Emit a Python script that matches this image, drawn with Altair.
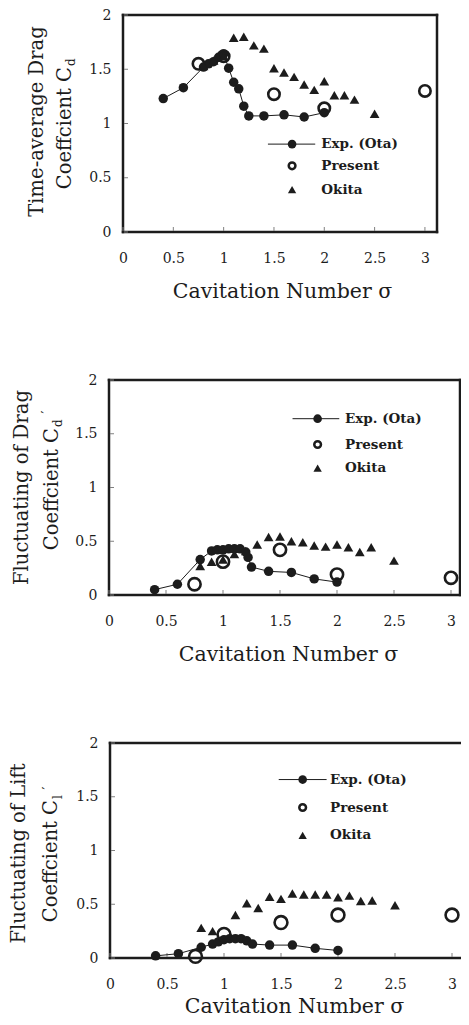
import altair as alt
import pandas as pd

FONT = "DejaVu Serif"
INK = "#1c1c1c"
TICK = "#808080"

x_ticks = [0, 0.5, 1, 1.5, 2, 2.5, 3]
y_ticks = [0, 0.5, 1, 1.5, 2]
legend_labels = ["Exp. (Ota)", "Present", "Okita"]
x_title = "Cavitation Number σ"

# ---- Panel 1: time-average drag coefficient Cd ----
sigma_exp_cd = [0.4, 0.6, 0.8, 0.85, 0.9, 0.95, 1.0, 1.05, 1.1, 1.15, 1.2, 1.25, 1.4, 1.6, 1.8, 2.0]
exp_cd = [1.23, 1.33, 1.52, 1.55, 1.57, 1.61, 1.64, 1.51, 1.38, 1.32, 1.16, 1.07, 1.07, 1.08, 1.06, 1.10]
sigma_present = [0.75, 1.0, 1.5, 2.0, 3.0]
present_cd = [1.55, 1.62, 1.27, 1.14, 1.30]
sigma_okita_cd = [0.8, 0.9, 1.0, 1.1, 1.2, 1.3, 1.4, 1.5, 1.6, 1.7, 1.8, 1.9, 2.0, 2.1, 2.2, 2.3, 2.5]
okita_cd = [1.53, 1.58, 1.62, 1.79, 1.80, 1.72, 1.69, 1.51, 1.47, 1.43, 1.36, 1.31, 1.39, 1.26, 1.26, 1.22, 1.09]

# ---- Panel 2: fluctuating drag coefficient Cd' ----
sigma_exp_cdf = [0.4, 0.6, 0.8, 0.9, 0.95, 1.0, 1.05, 1.1, 1.15, 1.2, 1.22, 1.25, 1.4, 1.6, 1.8, 2.0]
exp_cdf = [0.05, 0.10, 0.33, 0.41, 0.42, 0.42, 0.43, 0.43, 0.43, 0.40, 0.35, 0.26, 0.22, 0.21, 0.15, 0.12]
present_cdf = [0.10, 0.31, 0.42, 0.19, 0.16]
sigma_okita_cdf = [0.8, 0.9, 1.0, 1.1, 1.2, 1.3, 1.4, 1.5, 1.6, 1.7, 1.8, 1.9, 2.0, 2.1, 2.2, 2.3, 2.5]
okita_cdf = [0.27, 0.31, 0.33, 0.38, 0.41, 0.47, 0.54, 0.545, 0.50, 0.49, 0.46, 0.45, 0.47, 0.445, 0.40, 0.445, 0.32]

# ---- Panel 3: fluctuating lift coefficient Cl' ----
sigma_exp_clf = [0.4, 0.6, 0.8, 0.9, 0.95, 1.0, 1.05, 1.1, 1.15, 1.2, 1.25, 1.4, 1.6, 1.8, 2.0]
exp_clf = [0.02, 0.04, 0.10, 0.13, 0.15, 0.17, 0.18, 0.18, 0.18, 0.16, 0.13, 0.12, 0.12, 0.09, 0.07]
present_clf = [0.015, 0.22, 0.33, 0.40, 0.40]
sigma_okita_clf = [0.8, 0.9, 1.1, 1.2, 1.3, 1.4, 1.5, 1.6, 1.7, 1.8, 1.9, 2.0, 2.1, 2.2, 2.3, 2.5]
okita_clf = [0.28, 0.25, 0.40, 0.51, 0.465, 0.57, 0.55, 0.60, 0.59, 0.59, 0.59, 0.565, 0.58, 0.53, 0.535, 0.49]

# whole drawing area: one view, three panels placed by their own scale ranges
WV, HV = 453, 1008


def text_mark(text, x, y, size, align="center", angle=270):
    return alt.Chart(pd.DataFrame({"a": [0]})).mark_text(
        text=text, angle=angle, align=align, baseline="middle",
        font=FONT, fontSize=size, color=INK,
    ).encode(x=alt.value(x), y=alt.value(y))


def panel(cfg):
    l, r, t, b = cfg["l"], cfg["r"], cfg["t"], cfg["b"]
    xmax = cfg["xmax"]

    def xs():
        return alt.Scale(domain=[0, xmax], range=[l, r], nice=False, zero=False)

    def ys():
        return alt.Scale(domain=[0, 2], range=[b, t], nice=False, zero=False)

    ax_lab_x = alt.Axis(
        orient="bottom", offset=b - HV, values=x_ticks, format="~g",
        labelFont=FONT, labelFontSize=14, labelColor=INK, labelPadding=19,
        ticks=False, tickSize=0, domain=False, grid=False, labelFlush=False, labelOverlap=False,
        title=x_title, titleFont=FONT, titleFontSize=20.5, titleFontWeight="normal",
        titleColor=INK, titleX=cfg["tx"], titleY=cfg["ty"], titleBaseline="alphabetic",
        titleAlign="center", minExtent=0,
    )
    ax_lab_y = alt.Axis(
        orient="left", offset=-l, values=y_ticks, format="~g",
        labelFont=FONT, labelFontSize=14, labelColor=INK, labelPadding=12,
        ticks=False, tickSize=0, domain=False, grid=False, labelFlush=False, labelOverlap=False,
        title=None, minExtent=0,
    )

    def enc(ax=None, ay=None):
        return dict(
            x=alt.X("sigma:Q", scale=xs(), axis=ax),
            y=alt.Y("c:Q", scale=ys(), axis=ay),
        )

    exp_df = pd.DataFrame({"sigma": cfg["exp_x"], "c": cfg["exp_y"]})
    pres_df = pd.DataFrame({"sigma": cfg["pres_x"], "c": cfg["pres_y"]})
    ok_df = pd.DataFrame({"sigma": cfg["ok_x"], "c": cfg["ok_y"]})

    # frame edges in data units (panel 3 runs off the right edge of the page)
    edges = [(0, 0, xmax, 0), (0, 2, xmax, 2), (0, 0, 0, 2)]
    if cfg["right_edge"]:
        edges.append((xmax, 0, xmax, 2))
    frame_df = pd.DataFrame(edges, columns=["sigma", "c", "sigma2", "c2"])
    xt_df = pd.DataFrame({"sigma": x_ticks, "c": [0] * len(x_ticks)})
    yt_df = pd.DataFrame({"sigma": [0] * len(y_ticks), "c": y_ticks})

    layers = [
        alt.Chart(frame_df).mark_rule(color=INK, strokeWidth=2.5, strokeCap="square").encode(
            x2="sigma2:Q", y2="c2:Q", **enc(ax_lab_x, ax_lab_y)),
        alt.Chart(xt_df).mark_tick(orient="vertical", size=4, thickness=1, color=TICK,
                                   yOffset=-3, opacity=1).encode(**enc()),
        alt.Chart(yt_df).mark_tick(orient="horizontal", size=4, thickness=1, color=TICK,
                                   xOffset=3, opacity=1).encode(**enc()),
        alt.Chart(exp_df).mark_line(color=INK, strokeWidth=1).encode(**enc()),
        alt.Chart(exp_df).mark_point(shape="circle", filled=True, size=90, color=INK,
                                     opacity=1).encode(**enc()),
        alt.Chart(pres_df).mark_point(shape="circle", filled=False, size=cfg["psize"], color=INK,
                                      strokeWidth=2.6, opacity=1).encode(**enc()),
        alt.Chart(ok_df).mark_point(shape="triangle-up", filled=True, size=95, color=INK,
                                    opacity=1).encode(**enc()),
    ]

    # legend, placed in the panel's data coordinates
    lg = cfg["legend"]
    ly = lg["y"]
    layers += [
        alt.Chart(pd.DataFrame({"sigma": [lg["x0"], lg["x1"]], "c": [ly[0], ly[0]]}))
        .mark_line(color=INK, strokeWidth=1).encode(**enc()),
        alt.Chart(pd.DataFrame({"sigma": [lg["sx"]], "c": [ly[0]]}))
        .mark_point(shape="circle", filled=True, size=75, color=INK, opacity=1).encode(**enc()),
        alt.Chart(pd.DataFrame({"sigma": [lg["sx"]], "c": [ly[1]]}))
        .mark_point(shape="circle", filled=False, size=45, color=INK, strokeWidth=2.5,
                    opacity=1).encode(**enc()),
        alt.Chart(pd.DataFrame({"sigma": [lg["sx"]], "c": [ly[2]]}))
        .mark_point(shape="triangle-up", filled=True, size=70, color=INK, opacity=1).encode(**enc()),
        alt.Chart(pd.DataFrame({"sigma": [lg["tx"]] * 3, "c": ly, "label": legend_labels}))
        .mark_text(align="left", baseline="middle", font=FONT, fontSize=13.5,
                   fontWeight="bold", color=INK)
        .encode(text="label:N", **enc()),
    ]

    for tt in cfg["ytitles"]:
        layers.append(text_mark(*tt))
    return layers


p1 = panel(dict(
    l=115, r=429, t=7, b=224, xmax=3.12, right_edge=True, psize=130, tx=274, ty=65,
    exp_x=sigma_exp_cd, exp_y=exp_cd, pres_x=sigma_present, pres_y=present_cd,
    ok_x=sigma_okita_cd, ok_y=okita_cd,
    legend=dict(x0=1.44, x1=1.91, sx=1.68, tx=1.97, y=[0.81, 0.61, 0.39]),
    ytitles=[
        ("Time-average Drag", 29, 113.5, 19.5, "center"),
        ("Coeffcient C", 57, 59, 19.5, "right"),
        ("d", 63, 58, 12, "left"),
    ],
))

p2 = panel(dict(
    l=101, r=452, t=372, b=587, xmax=351 / 114, right_edge=True, psize=150, tx=280, ty=65,
    exp_x=sigma_exp_cdf, exp_y=exp_cdf, pres_x=sigma_present, pres_y=present_cdf,
    ok_x=sigma_okita_cdf, ok_y=okita_cdf,
    legend=dict(x0=1.61, x1=2.02, sx=1.83, tx=2.07, y=[1.64, 1.40, 1.18]),
    ytitles=[
        ("Fluctuating of Drag", 14, 479.5, 19.5, "center"),
        ("Coeffcient C", 44, 420, 19.5, "right"),
        ("d", 50, 419, 12, "left"),
        ("′", 39, 404, 13, "center"),
    ],
))

p3 = panel(dict(
    l=102, r=453, t=735, b=950, xmax=351 / 114, right_edge=False, psize=165, tx=286, ty=54,
    exp_x=sigma_exp_clf, exp_y=exp_clf, pres_x=sigma_present, pres_y=present_clf,
    ok_x=sigma_okita_clf, ok_y=okita_clf,
    legend=dict(x0=1.48, x1=1.90, sx=1.69, tx=1.93, y=[1.66, 1.40, 1.14]),
    ytitles=[
        ("Fluctuating of Lift", 11, 845.5, 19.5, "center"),
        ("Coeffcient C", 43, 792, 19.5, "right"),
        ("l", 50, 791, 12, "left"),
        ("′", 40, 780, 13, "center"),
    ],
))

chart = (
    alt.layer(*(p1 + p2 + p3))
    .resolve_scale(x="independent", y="independent")
    .resolve_axis(x="independent", y="independent")
    .properties(width=WV, height=HV, padding=0, autosize=alt.AutoSizeParams(type="none"))
    .configure_view(stroke="transparent")
)

chart.save("out.html", embed_options={"renderer": "svg", "actions": False})
